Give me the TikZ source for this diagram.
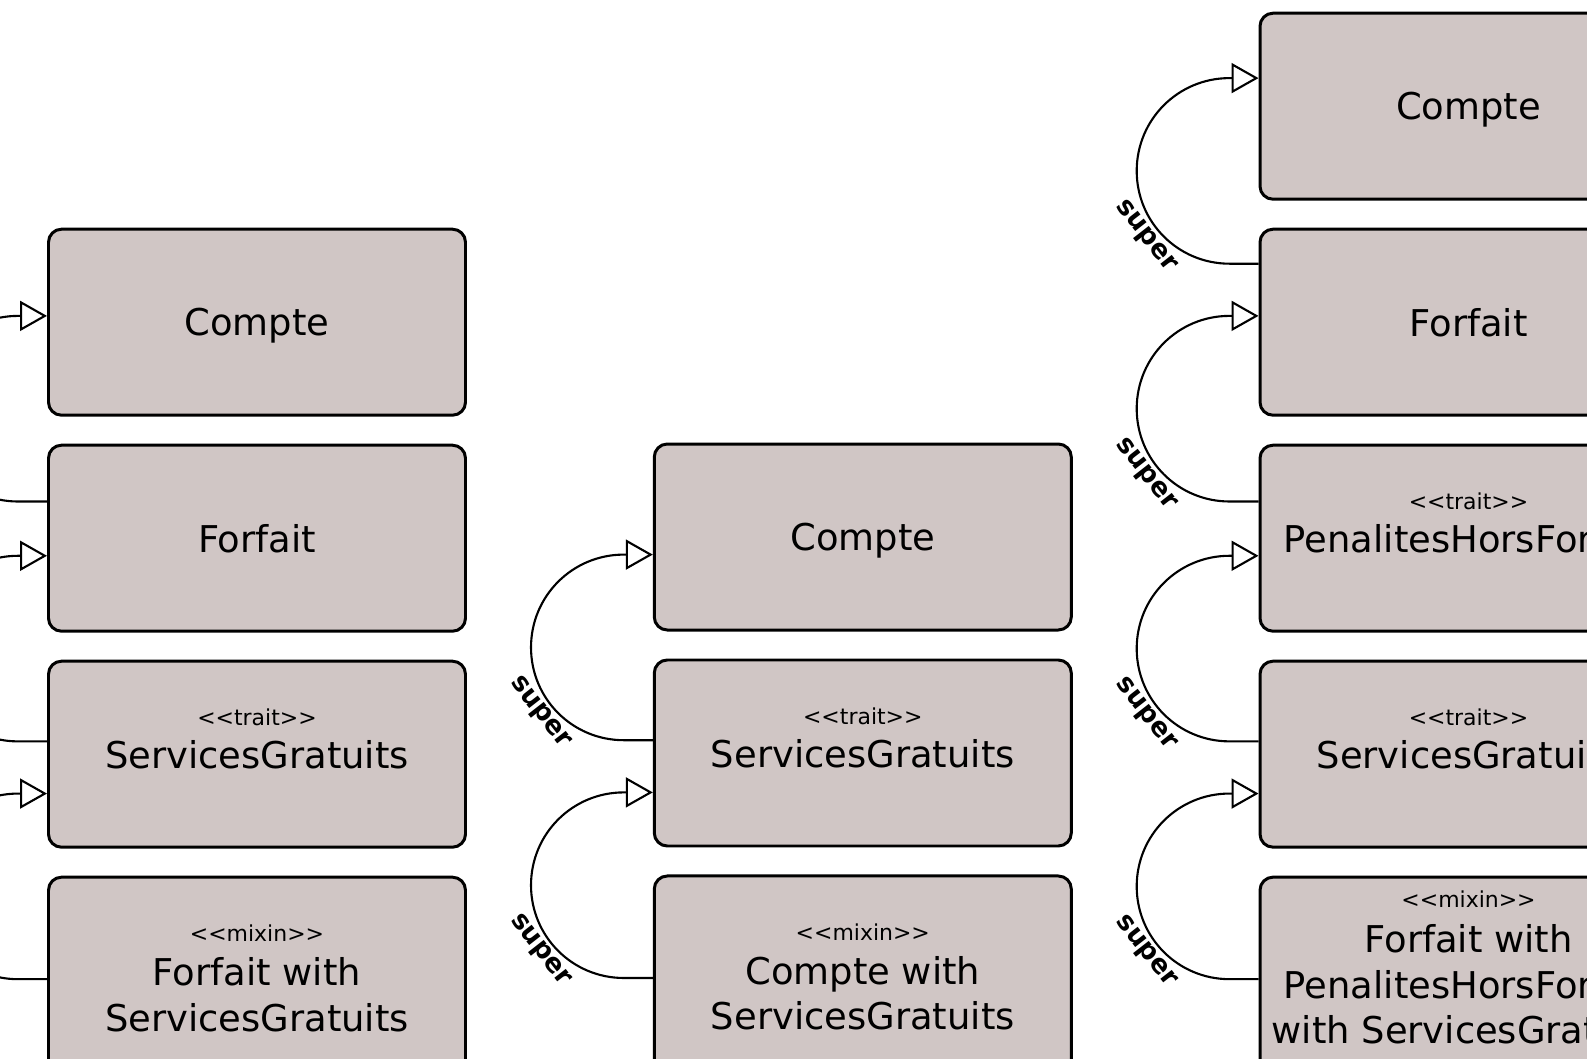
\documentclass[tikz,border=0pt]{standalone}
\usepackage{fontspec}
\setmainfont{DejaVu Sans}
\usetikzlibrary{positioning,arrows.meta}
\definecolor{classfill}{RGB}{208,198,197}
\newcommand{\stTrait}{<\kern0pt<trait>\kern0pt>}
\newcommand{\stMixin}{<\kern0pt<mixin>\kern0pt>}
\tikzset{
	umlclass/.style={draw,line width=0.85pt,fill=classfill,rounded corners=0.13cm,
		minimum width=4.17cm,minimum height=1.86cm,inner sep=0pt,align=center,
		text depth=0pt,font=\fontsize{10.5}{13}\selectfont},
	stereo/.style={font=\fontsize{6.25}{7.5}\selectfont,inner sep=0pt},
	inherit/.style={line width=0.6pt,-{Triangle[open,length=0.27cm,width=0.3cm]}},
	superlbl/.style={font=\bfseries\fontsize{7.5}{8}\selectfont,sloped,below,inner sep=0.8pt,pos=0.58}
}
\begin{document}
\begin{tikzpicture}
\useasboundingbox (0,0) rectangle (15.87,-10.59);
\clip (0,0) rectangle (15.87,-10.59);
% Forfait with ServicesGratuits
\node[umlclass] (compteA) at (2.57,-3.222) {Compte};
\node[umlclass,below=0.27cm of compteA] (forfaitA) {Forfait};
\node[umlclass,below=0.27cm of forfaitA,
	label={[stereo,yshift=0.364cm]center:\stTrait}] (servA) {ServicesGratuits};
\node[umlclass,below=0.27cm of servA,minimum height=2.34cm,
	label={[stereo,yshift=0.61cm]center:\stMixin}] (mixA) {Forfait with\\ServicesGratuits};
% Compte with ServicesGratuits
\node[umlclass] (compteB) at (8.628,-5.37) {Compte};
\node[umlclass,below=0.27cm of compteB,
	label={[stereo,yshift=0.364cm]center:\stTrait}] (servB) {ServicesGratuits};
\node[umlclass,below=0.27cm of servB,minimum height=2.34cm,
	label={[stereo,yshift=0.61cm]center:\stMixin}] (mixB) {Compte with\\ServicesGratuits};
% Forfait with PenalitesHorsForfait with ServicesGratuits
\node[umlclass] (compteC) at (14.685,-1.062) {Compte};
\node[umlclass,below=0.27cm of compteC] (forfaitC) {Forfait};
\node[umlclass,below=0.27cm of forfaitC,
	label={[stereo,yshift=0.364cm]center:\stTrait}] (penC) {PenalitesHorsForfait};
\node[umlclass,below=0.27cm of penC,
	label={[stereo,yshift=0.364cm]center:\stTrait}] (servC) {ServicesGratuits};
\node[umlclass,below=0.27cm of servC,minimum height=2.14cm,
	label={[stereo,yshift=0.853cm]center:\stMixin}] (mixC) {Forfait with\\PenalitesHorsForfait\\with ServicesGratuits};

\draw[inherit] ([yshift=-0.578cm]forfaitA.north west) -- ++(-0.29,0)
	to[out=180,in=-90] ++(-0.928,0.928) to[out=90,in=180] ++(0.928,0.928)
	-- ([yshift=-0.882cm]compteA.north west);
\draw[inherit] ([yshift=-0.817cm]servA.north west) -- ++(-0.29,0)
	to[out=180,in=-90] ++(-0.928,0.928) to[out=90,in=180] ++(0.928,0.928)
	-- ([yshift=-1.121cm]forfaitA.north west);
\draw[inherit] ([yshift=-1.035cm]mixA.north west) -- ++(-0.29,0)
	to[out=180,in=-90] ++(-0.928,0.928) to[out=90,in=180] ++(0.928,0.928)
	-- ([yshift=-1.339cm]servA.north west);

\draw[inherit] ([yshift=-0.817cm]servB.north west) -- ++(-0.29,0)
	to[out=180,in=-90] node[superlbl] {super} ++(-0.928,0.928)
	to[out=90,in=180] ++(0.928,0.928)
	-- ([yshift=-1.121cm]compteB.north west);
\draw[inherit] ([yshift=-1.035cm]mixB.north west) -- ++(-0.29,0)
	to[out=180,in=-90] node[superlbl] {super} ++(-0.928,0.928)
	to[out=90,in=180] ++(0.928,0.928)
	-- ([yshift=-1.339cm]servB.north west);

\draw[inherit] ([yshift=-0.36cm]forfaitC.north west) -- ++(-0.29,0)
	to[out=180,in=-90] node[superlbl] {super} ++(-0.928,0.928)
	to[out=90,in=180] ++(0.928,0.928)
	-- ([yshift=-0.664cm]compteC.north west);
\draw[inherit] ([yshift=-0.578cm]penC.north west) -- ++(-0.29,0)
	to[out=180,in=-90] node[superlbl] {super} ++(-0.928,0.928)
	to[out=90,in=180] ++(0.928,0.928)
	-- ([yshift=-0.882cm]forfaitC.north west);
\draw[inherit] ([yshift=-0.817cm]servC.north west) -- ++(-0.29,0)
	to[out=180,in=-90] node[superlbl] {super} ++(-0.928,0.928)
	to[out=90,in=180] ++(0.928,0.928)
	-- ([yshift=-1.121cm]penC.north west);
\draw[inherit] ([yshift=-1.035cm]mixC.north west) -- ++(-0.29,0)
	to[out=180,in=-90] node[superlbl] {super} ++(-0.928,0.928)
	to[out=90,in=180] ++(0.928,0.928)
	-- ([yshift=-1.339cm]servC.north west);
\end{tikzpicture}
\end{document}
